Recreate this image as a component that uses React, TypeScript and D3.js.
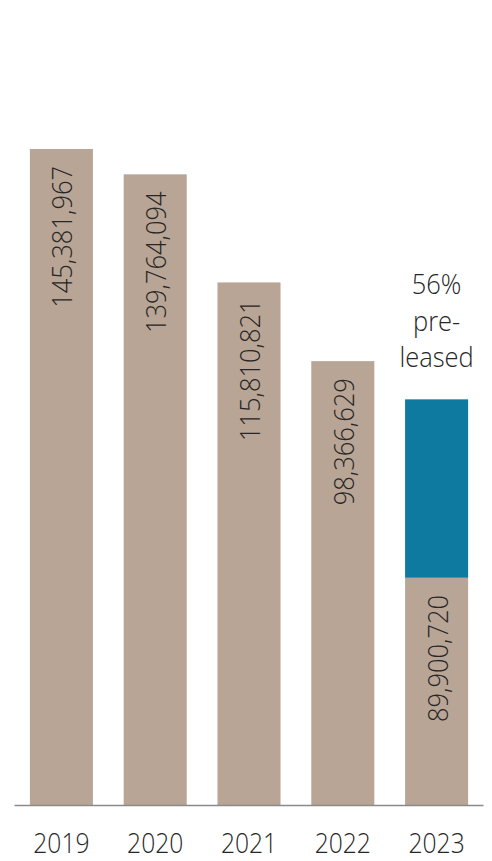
import React from "react";
import * as d3 from "d3";

const years = ["2019", "2020", "2021", "2022", "2023"];
const values = [145381967, 139764094, 115810821, 98366629, 89900720];
const preleasedYear = "2023";
const preleasedShare = 0.56;
const preleasedLabel = ["56%", "pre-", "leased"];

const W = 492;
const H = 861;
const baseY = 805;
const topY = 149;
const FONT = "'Open Sans', sans-serif";
const GRAY = "#b8a595";
const BLUE = "#0f7aa0";
const TEXT = "#262626";
const textStyle: React.CSSProperties = { fontStretch: "90%" };
const SQ = 0.91;
const SQ_YEAR = 0.88;

export default function App() {
  const x = d3.scaleBand<string>().domain(years).range([14.5, 483.5]).paddingInner(0.328).paddingOuter(0.164);
  const y = d3.scaleLinear().domain([0, d3.max(values) as number]).range([baseY, topY]);
  const fmt = d3.format(",");

  return (
    <svg width={W} height={H} style={{ position: "absolute", left: 0, top: 0 }} fontFamily={FONT}>
      {years.map((yr, i) => {
        const v = values[i];
        const bx = x(yr) as number;
        const bw = x.bandwidth();
        const cx = bx + bw / 2;
        const isPre = yr === preleasedYear;
        const grayVal = isPre ? v * preleasedShare : v;
        const grayTop = y(grayVal);
        const labelY = grayTop + 17;
        return (
          <g key={yr}>
            {isPre && (
              <rect x={bx} y={y(v)} width={bw} height={grayTop - y(v)} fill={BLUE} />
            )}
            <rect x={bx} y={grayTop} width={bw} height={baseY - grayTop} fill={GRAY} />
            <text
              transform={`translate(${cx},${labelY}) rotate(-90) scale(${SQ},1)`}
              textAnchor="end"
              dy={11}
              fontSize={28}
              fontWeight={300}
              fill={TEXT}
              style={textStyle}
            >
              {fmt(v)}
            </text>
            {isPre &&
              preleasedLabel.map((t, j) => (
                <text
                  key={j}
                  transform={`translate(${cx},${y(v) - 105 + j * 36.5}) scale(${SQ},1)`}
                  textAnchor="middle"
                  fontSize={28}
                  fontWeight={300}
                  fill={TEXT}
                  style={textStyle}
                >
                  {t}
                </text>
              ))}
            <text
              transform={`translate(${cx},853) scale(${SQ_YEAR},1)`}
              textAnchor="middle"
              fontSize={28}
              fontWeight={300}
              fill={TEXT}
              style={textStyle}
            >
              {yr}
            </text>
          </g>
        );
      })}
      <line x1={x.range()[0]} x2={x.range()[1]} y1={baseY + 0.5} y2={baseY + 0.5} stroke="#8a8a8a" strokeWidth={1.5} />
    </svg>
  );
}
